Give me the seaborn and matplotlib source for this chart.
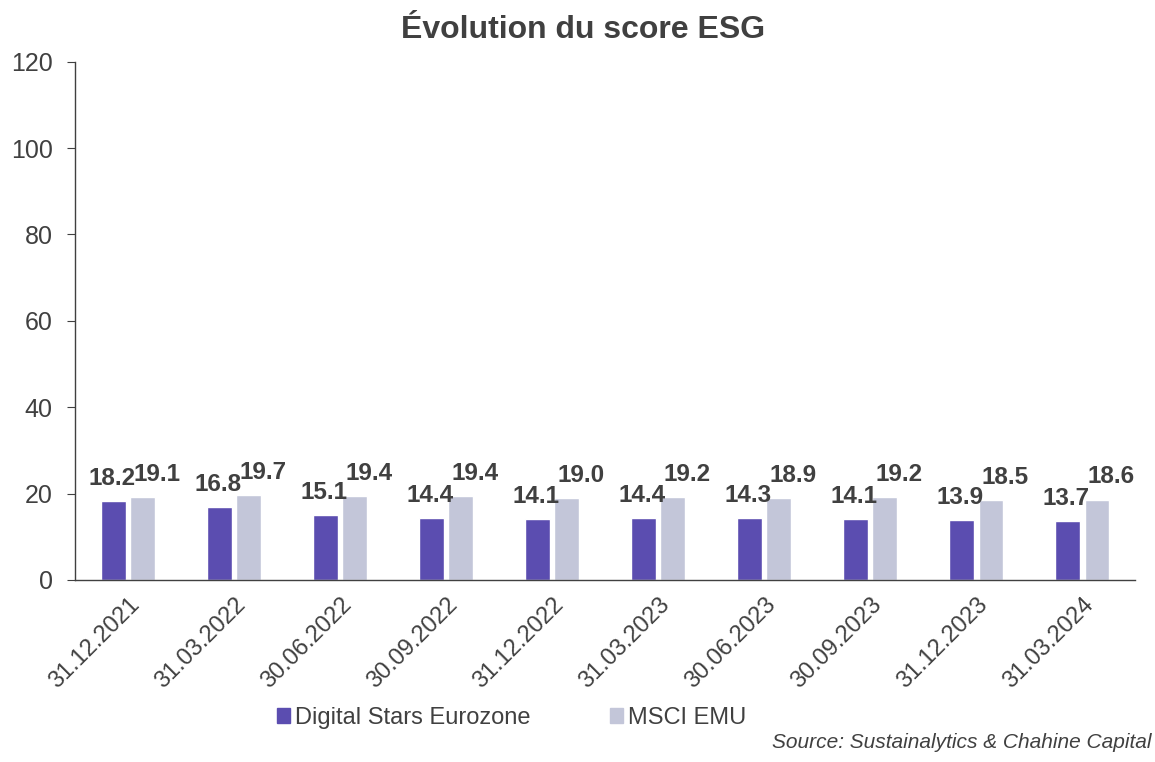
import matplotlib
matplotlib.use("Agg")
import matplotlib.pyplot as plt
import seaborn as sns
import pandas as pd
import numpy as np

# données
dates = ["31.12.2021", "31.03.2022", "30.06.2022", "30.09.2022", "31.12.2022",
         "31.03.2023", "30.06.2023", "30.09.2023", "31.12.2023", "31.03.2024"]
digital_stars = [18.2, 16.8, 15.1, 14.4, 14.1, 14.4, 14.3, 14.1, 13.9, 13.7]
msci_emu = [19.1, 19.7, 19.4, 19.4, 19.0, 19.2, 18.9, 19.2, 18.5, 18.6]
series = ["Digital Stars Eurozone", "MSCI EMU"]

df = pd.DataFrame({
    "date": dates * 2,
    "score": digital_stars + msci_emu,
    "serie": [series[0]] * len(dates) + [series[1]] * len(dates),
})

sns.set_style("white")
plt.rcParams["font.family"] = ["Liberation Sans", "DejaVu Sans"]

fig = plt.figure(figsize=(11.55, 7.62), dpi=100)
ax = fig.add_axes([0.065, 0.239, 0.918, 0.68])

palette = {series[0]: "#5B4DB0", series[1]: "#C3C6D9"}
sns.barplot(data=df, x="date", y="score", hue="serie", palette=palette,
            width=0.55, gap=0.15, saturation=1, ax=ax, legend=False)

# étiquettes de valeurs
for i, cont in enumerate(ax.containers):
    dx = -1 if i == 0 else 10
    for bar in cont:
        h = bar.get_height()
        ax.annotate(f"{h:.1f}", (bar.get_x() + bar.get_width() / 2, h),
                    xytext=(dx, 8), textcoords="offset points",
                    ha="center", va="bottom", fontsize=17.5, fontweight="bold",
                    color="#404040")

ax.set_ylim(0, 120)
ax.set_yticks(range(0, 121, 20))
ax.set_xlim(-0.5, len(dates) - 0.5)
ax.set_xlabel("")
ax.set_ylabel("")
ax.set_xticks(range(len(dates)))
ax.set_xticklabels(dates, rotation=45, ha="right", rotation_mode="anchor",
                   fontsize=17, color="#404040")
ax.set_xticks(np.arange(-0.5, len(dates)), minor=True)
ax.tick_params(axis="x", which="major", length=0, pad=10)
ax.tick_params(axis="x", which="minor", length=6, color="#404040", width=1)
ax.tick_params(axis="y", length=6, color="#404040", labelsize=18,
               labelcolor="#404040", direction="out", left=True, pad=10)
for s in ["top", "right"]:
    ax.spines[s].set_visible(False)
for s in ["left", "bottom"]:
    ax.spines[s].set_color("#404040")
    ax.spines[s].set_linewidth(1)

fig.suptitle("Évolution du score ESG", x=0.505, y=0.961, va="center",
             fontsize=23, fontweight="bold", color="#404040")

handles = [plt.Rectangle((0, 0), 1, 1, color=palette[s]) for s in series]
fig.legend(handles, series, loc="center", bbox_to_anchor=(0.443, 0.058),
           ncol=2, frameon=False, fontsize=17, handlelength=0.55,
           handleheight=0.55, handletextpad=0.2, columnspacing=3.4,
           labelcolor="#404040")

fig.text(0.997, 0.026, "Source: Sustainalytics & Chahine Capital", ha="right",
         va="center", fontsize=15, style="italic", color="#404040")

fig.savefig("out.png", dpi=100)
